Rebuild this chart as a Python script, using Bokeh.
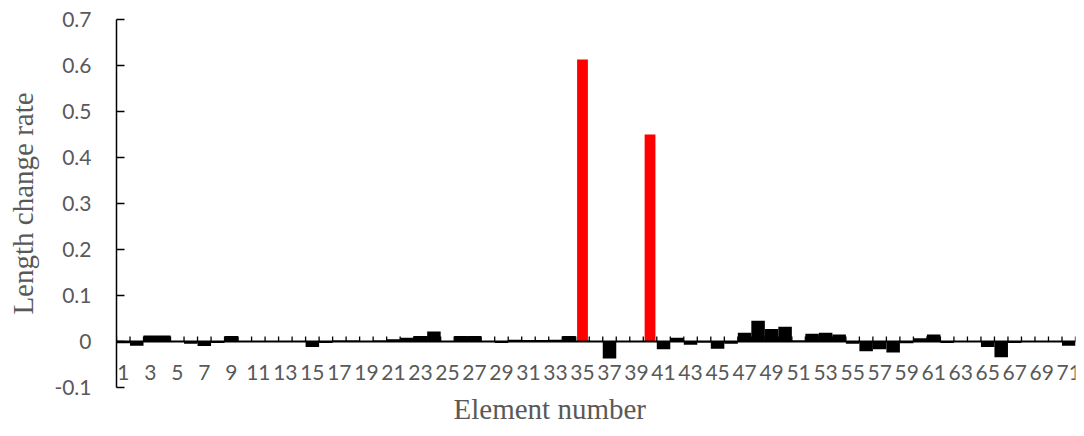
import numpy as np
from bokeh.plotting import figure
from bokeh.models import Range1d, FixedTicker, CustomJSTickFormatter, Span, Title
from bokeh.core.properties import value
from bokeh.embed import file_html
from bokeh.resources import INLINE

# ---- data ----
elements = list(range(1, 72))
length_change = [
    -0.004, -0.009, 0.013, 0.013, 0.000, -0.005, -0.010, -0.003, 0.012, 0.001,
    0.000, 0.000, 0.000, 0.000, -0.012, -0.003, 0.002, 0.002, 0.001, 0.002,
    0.005, 0.008, 0.012, 0.022, 0.001, 0.012, 0.012, 0.000, -0.003, 0.004,
    0.003, 0.003, 0.004, 0.012, 0.000, 0.001, -0.037, 0.000, 0.000, 0.000,
    -0.017, 0.008, -0.007, -0.002, -0.016, -0.005, 0.019, 0.045, 0.027, 0.032,
    0.002, 0.017, 0.019, 0.015, -0.005, -0.021, -0.017, -0.024, -0.004, 0.007,
    0.015, -0.003, 0.000, 0.000, -0.012, -0.034, -0.003, 0.000, 0.000, 0.000,
    -0.009,
]
damaged_elements = [35, 40]
damaged_values = [0.613, 0.450]
y_ticks = [-0.1, 0, 0.1, 0.2, 0.3, 0.4, 0.5, 0.6, 0.7]
label_elements = [e for e in elements if e % 2 == 1]
label_texts = [str(e) for e in label_elements]

GREY = "#595959"

p = figure(width=1084, height=436, output_backend="svg", toolbar_location=None,
           x_range=Range1d(0.5, 71.5), y_range=Range1d(-0.1, 0.7),
           x_axis_location=None,
           min_border_left=116, min_border_right=9, min_border_top=19, min_border_bottom=49)
p.outline_line_color = None
p.xgrid.visible = False
p.ygrid.visible = False
p.background_fill_color = "white"

# bars
p.vbar(x=elements, top=length_change, bottom=0, width=1.0,
       fill_color="black", line_color=None)
p.vbar(x=damaged_elements, top=damaged_values, bottom=0, width=0.8,
       fill_color="#FF0000", line_color=None)

# horizontal category axis at zero
p.add_layout(Span(location=0, dimension="width", line_color="black", line_width=2))
boundaries = [e - 0.5 for e in elements] + [elements[-1] + 0.5]
p.ray(x=boundaries, y=[0] * len(boundaries), length=5, length_units="screen",
      angle=np.pi / 2, line_color="black", line_width=1.3)
p.text(x=label_elements, y=[0] * len(label_elements), text=label_texts,
       text_align="center", text_baseline="middle", y_offset=31,
       text_font=value("Lato"), text_font_size="21px", text_color=GREY)

# x title
p.add_layout(Title(text="Element number", align="left", offset=337, standoff=6,
                   text_font="Liberation Serif", text_font_size="29px",
                   text_font_style="normal", text_color=GREY), "below")

# y axis
ya = p.yaxis[0]
ya.ticker = FixedTicker(ticks=y_ticks)
ya.formatter = CustomJSTickFormatter(code="return Math.abs(tick) < 1e-9 ? '0' : tick.toFixed(1);")
ya.major_tick_in = 8
ya.major_tick_out = 0
ya.minor_tick_line_color = None
ya.axis_line_width = 1.5
ya.axis_line_color = "black"
ya.major_tick_line_color = "black"
ya.major_tick_line_width = 1.3
ya.major_label_text_font = "Lato"
ya.major_label_text_font_size = "21px"
ya.major_label_text_color = GREY
ya.major_label_standoff = 25
ya.axis_label = "Length change rate"
ya.axis_label_text_font = "Liberation Serif"
ya.axis_label_text_font_size = "29px"
ya.axis_label_text_font_style = "normal"
ya.axis_label_text_color = GREY
ya.axis_label_standoff = 12

open("out.html", "w").write(file_html(p, INLINE))
